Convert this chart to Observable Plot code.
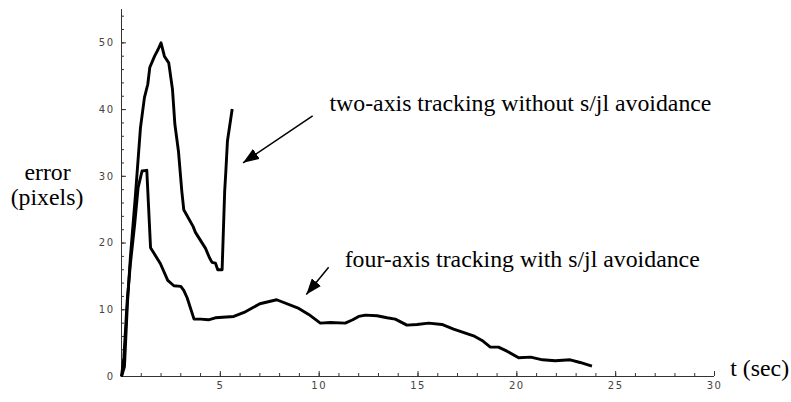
<!DOCTYPE html>
<html>
<head>
<meta charset="utf-8">
<script src="https://cdn.jsdelivr.net/npm/d3@7"></script>
<script src="https://cdn.jsdelivr.net/npm/@observablehq/plot@0.6"></script>
<style>
  html, body { margin: 0; padding: 0; background: #fff; }
  #chart svg { display: block; }
  #chart [aria-label="x-axis tick label"] text,
  #chart [aria-label="y-axis tick label"] text { letter-spacing: 1.5px; }
</style>
</head>
<body>
<div id="chart"></div>
<script>
// four-axis tracking with s/jl avoidance
const tFour = [0,0.12,0.29,0.45,0.67,0.84,1.04,1.28,1.47,1.97,2.34,2.65,3.0,3.15,3.32,3.67,4.0,4.4,4.75,5.68,6.2,7.0,7.85,8.97,9.47,10.06,10.57,11.32,11.7,12.0,12.34,12.93,13.43,13.85,14.44,14.95,15.54,16.21,16.8,17.81,18.24,18.66,19.07,19.5,20.09,20.7,21.3,21.94,22.7,23.2,23.8];
const eFour = [0,2.9,11.4,16.9,22.9,28.3,30.8,30.9,19.3,16.9,14.4,13.6,13.5,12.9,11.8,8.6,8.6,8.5,8.8,9.0,9.6,10.9,11.5,10.2,9.3,8.0,8.1,8.0,8.5,9.0,9.2,9.1,8.8,8.6,7.7,7.8,8.0,7.8,7.1,6.1,5.4,4.4,4.4,3.8,2.8,2.9,2.5,2.35,2.5,2.1,1.55];

// two-axis tracking without s/jl avoidance
const tTwo = [0,0.15,0.3,0.45,0.7,0.96,1.16,1.33,1.43,1.68,1.85,2.0,2.17,2.39,2.58,2.7,2.88,3.05,3.15,3.62,3.74,4.25,4.45,4.58,4.75,4.87,5.09,5.22,5.28,5.36,5.6];
const eTwo = [0,1.5,11,17.9,27,37.3,41.8,43.8,46.3,48.05,49,50,48,47,43,37.8,33.8,27.8,25,22.5,21.6,19.2,17.8,17.1,17.0,16.0,16.0,27.8,30.8,35.3,40.1];

const xTicks = [5,10,15,20,25,30];
const yTicks = [0,10,20,30,40,50];
const xMinor = d3.range(1, 31);
const yMinor = d3.range(2, 56, 2);

const fourData = tFour.map((t, i) => ({t, e: eFour[i]}));
const twoData = tTwo.map((t, i) => ({t, e: eTwo[i]}));

// annotation texts and arrows (in data coordinates)
const notes = [
  {text: "two-axis tracking without s/jl avoidance", t: 10.52, e: 40.9},
  {text: "four-axis tracking with s/jl avoidance", t: 11.29, e: 17.6},
  {text: "t (sec)", t: 30.8, e: 1.15}
];
const arrows = [
  {t1: 9.67, e1: 39.07, t2: 6.15, e2: 32.02},
  {t1: 10.48, e1: 16.36, t2: 9.35, e2: 12.28}
];
const yTitle = [
  {text: "error", t: -3.74, e: 30.6},
  {text: "(pixels)", t: -3.77, e: 26.8}
];

function filledHead(color) {
  const ns = "http://www.w3.org/2000/svg";
  const m = document.createElementNS(ns, "marker");
  m.setAttribute("viewBox", "-16 -6 16 12");
  m.setAttribute("markerWidth", 16);
  m.setAttribute("markerHeight", 12);
  m.setAttribute("markerUnits", "userSpaceOnUse");
  m.setAttribute("refX", 0);
  m.setAttribute("refY", 0);
  m.setAttribute("orient", "auto");
  const p = document.createElementNS(ns, "path");
  p.setAttribute("d", "M-16,-6L0,0L-16,6Z");
  p.setAttribute("fill", color);
  p.setAttribute("stroke", "none");
  m.appendChild(p);
  return m;
}

const serif = "'Liberation Serif', 'Times New Roman', serif";
const axisColor = "#333";

const chart = Plot.plot({
  width: 791,
  height: 402,
  marginLeft: 121,
  marginRight: 77,
  marginTop: 9,
  marginBottom: 26,
  style: {fontFamily: "'DejaVu Sans', sans-serif", background: "#fff"},
  x: {domain: [0, 30], axis: null},
  y: {domain: [0, 55], axis: null},
  marks: [
    // axis lines
    Plot.ruleY([0], {x1: 0, x2: 30, stroke: axisColor, strokeWidth: 1}),
    Plot.ruleX([0], {y1: 0, y2: 55, stroke: axisColor, strokeWidth: 1}),
    // minor and major ticks, pointing inward
    Plot.ruleX(xMinor, {x: d => d, y1: 0, y2: 0, insetTop: -3, stroke: axisColor}),
    Plot.ruleX(xTicks, {x: d => d, y1: 0, y2: 0, insetTop: -5, stroke: axisColor}),
    Plot.ruleY(yMinor, {y: d => d, x1: 0, x2: 0, insetRight: -3, stroke: axisColor}),
    Plot.ruleY(yTicks, {y: d => d, x1: 0, x2: 0, insetRight: -5, stroke: axisColor}),
    Plot.axisX({ticks: xTicks, tickSize: 0, tickPadding: 5, label: null, fontSize: 10, fill: "#444", tickFormat: d => String(d)}),
    Plot.axisY({ticks: yTicks, tickSize: 0, tickPadding: 7, label: null, fontSize: 10, fill: "#444", tickFormat: d => String(d)}),
    // data lines
    Plot.line(twoData, {x: "t", y: "e", stroke: "#000", strokeWidth: 2.9, strokeLinejoin: "round", strokeLinecap: "butt"}),
    Plot.line(fourData, {x: "t", y: "e", stroke: "#000", strokeWidth: 2.9, strokeLinejoin: "round", strokeLinecap: "butt"}),
    // annotations
    Plot.link(arrows, {x1: "t1", y1: "e1", x2: "t2", y2: "e2", stroke: "#000", strokeWidth: 1.5, markerEnd: filledHead}),
    Plot.text(notes, {x: "t", y: "e", text: "text", textAnchor: "start", lineAnchor: "middle", fontSize: 23.8, fontFamily: serif, fill: "#000"}),
    Plot.text(yTitle, {x: "t", y: "e", text: "text", textAnchor: "middle", lineAnchor: "middle", fontSize: 23.8, fontFamily: serif, fill: "#000"})
  ]
});

document.getElementById("chart").appendChild(chart);
</script>
</body>
</html>
